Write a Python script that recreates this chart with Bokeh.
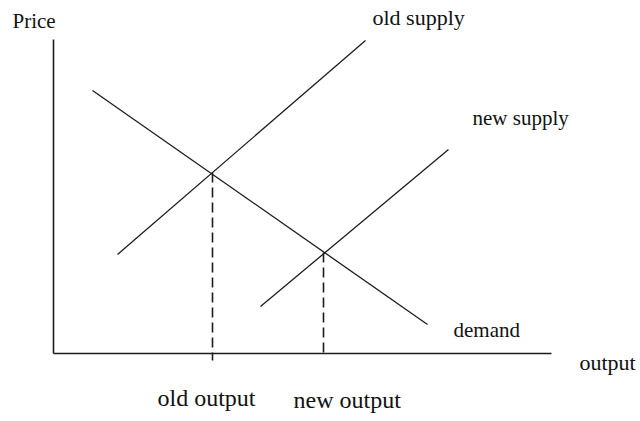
from bokeh.plotting import figure
from bokeh.models import Range1d, ColumnDataSource
from bokeh.core.properties import value
from bokeh.embed import file_html
from bokeh.resources import INLINE

# ---- data (quantity, price), origin at the axes' corner ----
axis_q_max = 498
axis_p_max = 314

old_supply_q = [64, 312]
old_supply_p = [99, 313]

new_supply_q = [207, 395]
new_supply_p = [47, 204]

demand_q = [39, 374]
demand_p = [263, 29]

equilibrium_q = [159, 270]
equilibrium_p = [181, 101]
dash_bottom = [-7, -4]

label_texts = ["Price", "old supply", "new supply", "demand", "output", "old output", "new output"]

# ---- layout of the labels ----
label_q = [-41, 319, 419, 400, 526, 104, 240]
label_p = [333, 336, 236, 24, -9, -44, -46]
label_size = ["21px", "22px", "21px", "21px", "22px", "24px", "24px"]

W, H = 640, 421
p = figure(width=W, height=H, output_backend="svg", toolbar_location=None,
           x_range=Range1d(-53, W - 53), y_range=Range1d(-68, H - 68),
           min_border=0, min_border_left=0, min_border_right=0,
           min_border_top=0, min_border_bottom=0)
p.axis.visible = False
p.grid.visible = False
p.outline_line_color = None
p.background_fill_color = "white"
p.border_fill_color = "white"

ink = "#1c1c1c"
# axes
p.line([0, 0], [0, axis_p_max], line_color=ink, line_width=1.6)
p.line([0, axis_q_max], [0, 0], line_color=ink, line_width=1.6)

p.line(old_supply_q, old_supply_p, line_color=ink, line_width=1.3)
p.line(new_supply_q, new_supply_p, line_color=ink, line_width=1.3)
p.line(demand_q, demand_p, line_color=ink, line_width=1.3)

p.segment(x0=equilibrium_q, y0=equilibrium_p, x1=equilibrium_q, y1=dash_bottom,
          line_color=ink, line_width=1.6, line_dash="10 5")

src = ColumnDataSource(dict(x=label_q, y=label_p, t=label_texts, s=label_size))
p.text(x="x", y="y", text="t", source=src, text_font=value("Liberation Serif"),
       text_font_size="s", text_color="#111111", text_align="left",
       text_baseline="alphabetic")

open("out.html", "w").write(file_html(p, INLINE))
